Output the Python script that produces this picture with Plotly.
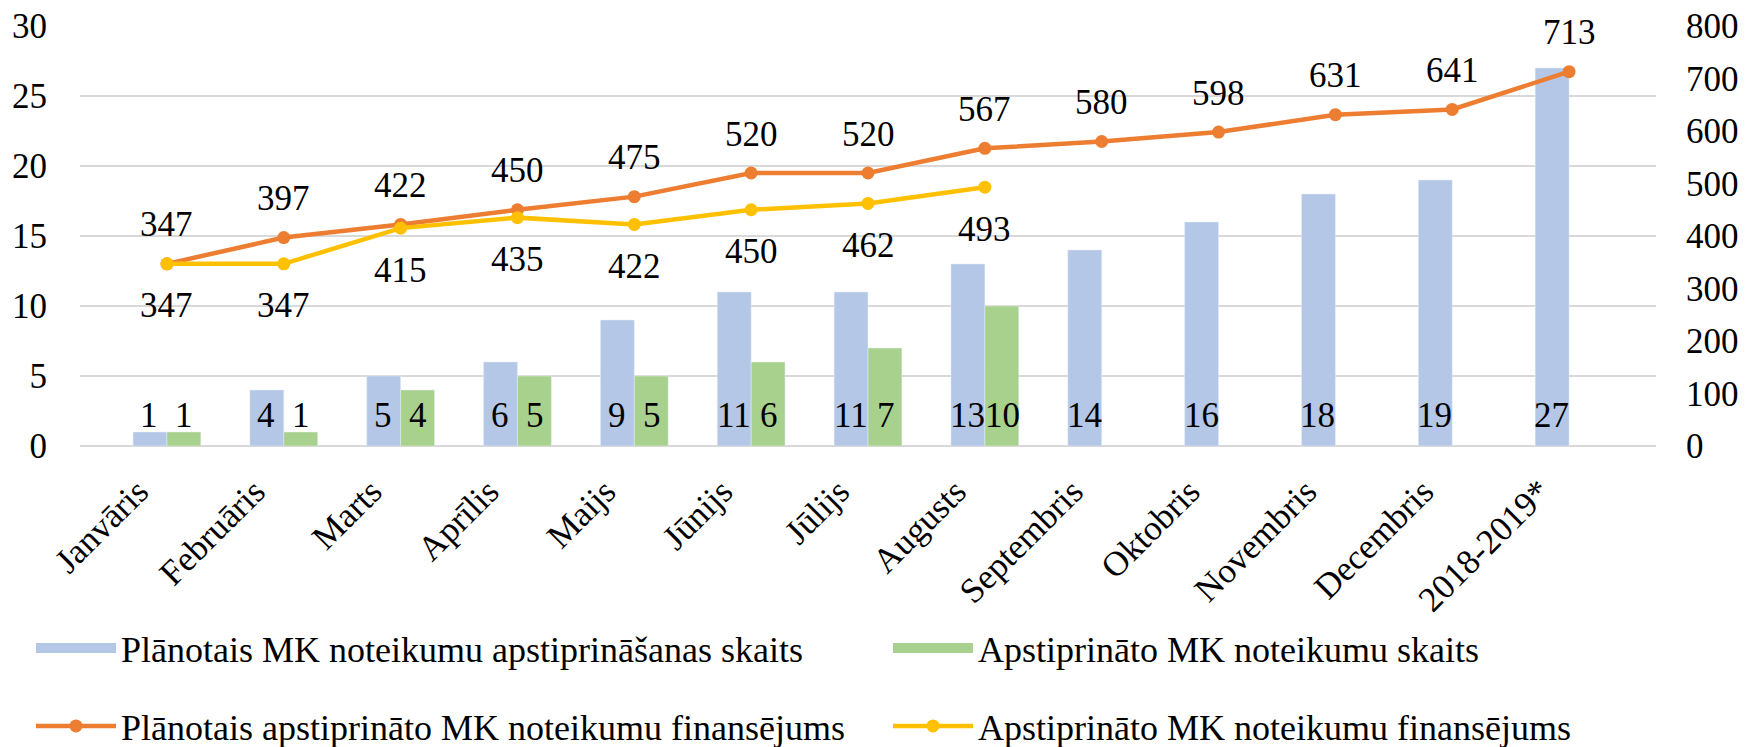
import plotly.graph_objects as go

categories = ["Janvāris", "Februāris", "Marts", "Aprīlis", "Maijs", "Jūnijs", "Jūlijs",
              "Augusts", "Septembris", "Oktobris", "Novembris", "Decembris", "2018-2019*"]
planned_count = [1, 4, 5, 6, 9, 11, 11, 13, 14, 16, 18, 19, 27]
approved_count = [1, 1, 4, 5, 5, 6, 7, 10, None, None, None, None, None]
planned_fin = [347, 397, 422, 450, 475, 520, 520, 567, 580, 598, 631, 641, 713]
approved_fin = [347, 347, 415, 435, 422, 450, 462, 493, None, None, None, None, None]

names = ["Plānotais MK noteikumu apstiprināšanas skaits",
         "Apstiprināto MK noteikumu skaits",
         "Plānotais apstiprināto MK noteikumu finansējums",
         "Apstiprināto MK noteikumu finansējums"]

FONT = "Liberation Serif"
FS = 35
LFS = 36
BLUE = "#B4C7E7"
GREEN = "#A9D18E"
ORANGE = "#ED7D31"
YELLOW = "#FFC000"
ITEMW = 80

fig = go.Figure()
fig.add_trace(go.Bar(x=categories, y=planned_count, name=names[0], marker_color=BLUE, showlegend=False))
fig.add_trace(go.Bar(x=categories, y=approved_count, name=names[1], marker_color=GREEN, showlegend=False))
fig.add_trace(go.Scatter(x=categories, y=planned_fin, name=names[2],
                         mode="lines+markers", yaxis="y2", line=dict(color=ORANGE, width=4.5),
                         marker=dict(size=13, color=ORANGE), legend="legend3"))
fig.add_trace(go.Scatter(x=categories, y=approved_fin, name=names[3],
                         mode="lines+markers", yaxis="y2", line=dict(color=YELLOW, width=4.5),
                         marker=dict(size=13, color=YELLOW), legend="legend4"))
# legend entries for the bar series, drawn as wide colour swatches
fig.add_trace(go.Scatter(x=[None], y=[None], mode="lines", name=names[0],
                         line=dict(color=BLUE, width=20), legend="legend", hoverinfo="skip"))
fig.add_trace(go.Scatter(x=[None], y=[None], mode="lines", name=names[1],
                         line=dict(color=GREEN, width=20), legend="legend2", hoverinfo="skip"))

annotations = []
LABEL_Y = 2.2
afont = dict(size=FS, family=FONT, color="black")
for c, v in zip(categories, planned_count):
    annotations.append(dict(x=c, y=LABEL_Y, xref="x", yref="y", text=str(v), showarrow=False,
                            xshift=-17.5, yanchor="middle", font=afont))
for c, v in zip(categories, approved_count):
    if v is not None:
        annotations.append(dict(x=c, y=LABEL_Y, xref="x", yref="y", text=str(v), showarrow=False,
                                xshift=17.5, yanchor="middle", font=afont))
for c, v in zip(categories, planned_fin):
    annotations.append(dict(x=c, y=v, xref="x", yref="y2", text=str(v), showarrow=False,
                            yshift=39, yanchor="middle", font=afont))
for c, v in zip(categories, approved_fin):
    if v is not None:
        annotations.append(dict(x=c, y=v, xref="x", yref="y2", text=str(v), showarrow=False,
                                yshift=-42, yanchor="middle", font=afont))

PLOT_L, PLOT_W, PLOT_B, PLOT_H = 80, 1576, 446, 420


def px_to_paper_x(px):
    return (px - PLOT_L) / PLOT_W


def px_to_paper_y(py):
    return (PLOT_B - py) / PLOT_H


def leg(x_text, y_center):
    return dict(orientation="h", x=px_to_paper_x(x_text - (ITEMW + 14)), xanchor="left",
                y=px_to_paper_y(y_center), yanchor="middle", itemwidth=ITEMW,
                font=dict(size=LFS, family=FONT, color="black"), bgcolor="rgba(0,0,0,0)",
                borderwidth=0)


fig.update_layout(
    width=1742, height=739,
    margin=dict(l=72, r=94, t=18, b=301, autoexpand=False),
    paper_bgcolor="white", plot_bgcolor="white",
    font=dict(family=FONT, size=FS, color="black"),
    barmode="group", bargap=0.42, bargroupgap=0,
    xaxis=dict(type="category", tickangle=-45, showgrid=False, showline=False, zeroline=False,
               ticks="", ticklabelstandoff=17, ticklabelshift=-29, automargin=False,
               ticklabeloverflow="allow", tickfont=dict(size=FS, family=FONT)),
    yaxis=dict(range=[0, 30], dtick=5, showgrid=True, gridcolor="#D9D9D9", gridwidth=1.5,
               zeroline=True, zerolinecolor="#D9D9D9", zerolinewidth=2, automargin=False,
               showline=False, ticks="", ticklabelstandoff=32, ticklabeloverflow="allow",
               tickfont=dict(size=FS, family=FONT)),
    yaxis2=dict(range=[0, 800], dtick=100, overlaying="y", side="right", showgrid=False,
                zeroline=False, showline=False, ticks="", ticklabelstandoff=29, automargin=False,
                ticklabeloverflow="allow", tickfont=dict(size=FS, family=FONT)),
    legend=leg(125, 648),
    legend2=leg(982, 648),
    legend3=leg(125, 726),
    legend4=leg(982, 726),
    annotations=annotations,
    showlegend=True,
)

fig.write_html("out.html")
